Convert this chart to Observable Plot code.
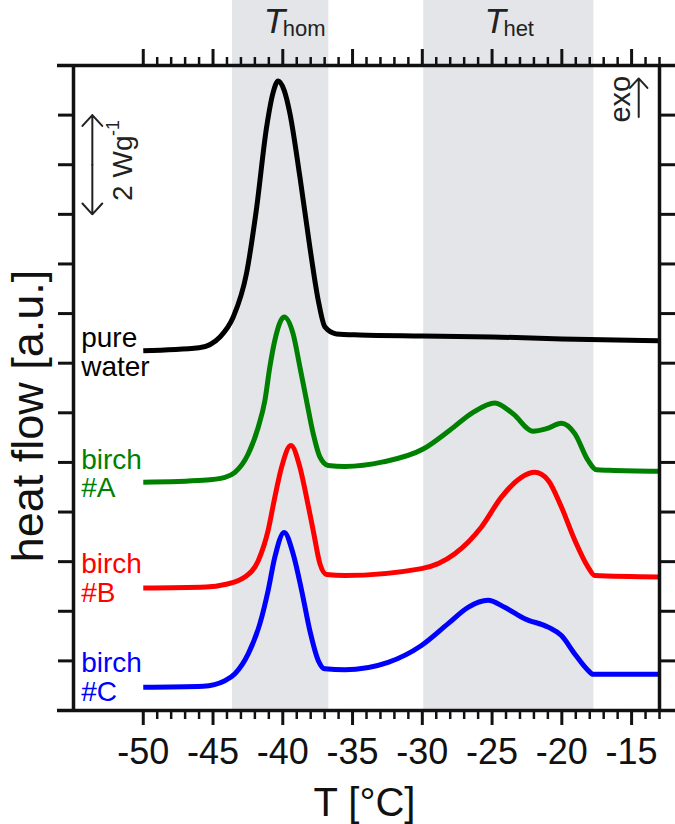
<!DOCTYPE html>
<html><head><meta charset="utf-8">
<script src="https://cdn.jsdelivr.net/npm/d3@7"></script>
<script src="https://cdn.jsdelivr.net/npm/@observablehq/plot@0.6"></script>
<style>html,body{margin:0;padding:0;background:#fff}</style>
</head><body><div id="chart"></div>
<script>
// ---- data ----
const waterT = [-50, -46, -44.5, -43.55, -42.6, -41.9, -41.16, -40.7, -40.33, -39.9, -39.5, -38.77, -38.06, -37.46, -36.98, -36.15, -34.5, -30, -25, -20, -13];
const waterV = [7.25, 7.31, 7.53, 7.93, 8.81, 10.08, 11.76, 12.45, 12.69, 12.5, 12.05, 10.75, 9.34, 8.27, 7.73, 7.59, 7.57, 7.55, 7.53, 7.49, 7.45];

const birchAT = [-50, -45.7, -44.15, -43.43, -42.48, -41.76, -41.28, -40.93, -40.57, -39.9, -39.26, -38.77, -38.3, -37.82, -37.34, -36.75, -35.55, -32.81, -29.94, -28.03, -26.36, -24.8, -23.5, -22.06, -21.1, -20.03, -19.07, -18.12, -17.52, -16.57, -13];
const birchAV = [4.60, 4.64, 4.70, 4.80, 5.17, 5.71, 6.25, 6.92, 7.46, 7.93, 7.59, 6.92, 6.25, 5.58, 5.11, 4.94, 4.92, 5.01, 5.27, 5.65, 6.01, 6.2, 5.98, 5.63, 5.68, 5.79, 5.58, 5.04, 4.85, 4.84, 4.82];

const birchBT = [-50, -45.5, -44.15, -42.72, -41.76, -41.05, -40.57, -40.09, -39.42, -38.77, -38.3, -37.82, -37.34, -36.86, -35.55, -30.06, -27.67, -25.76, -24.33, -22.9, -21.94, -20.98, -20.03, -19.07, -18.12, -17.64, -13];
const birchBV = [2.47, 2.49, 2.54, 2.69, 3.02, 3.63, 4.30, 4.9, 5.34, 4.9, 4.30, 3.63, 2.96, 2.74, 2.72, 2.86, 3.16, 3.70, 4.30, 4.70, 4.80, 4.64, 4.10, 3.43, 2.89, 2.72, 2.69];

const birchCT = [-50, -45.7, -44.15, -43.43, -42.48, -41.64, -41.05, -40.57, -39.9, -39.26, -38.65, -38.06, -37.46, -36.98, -35.55, -32.45, -30.06, -28.15, -26.72, -25.29, -24.1, -22.66, -20.98, -20.03, -19.07, -18.12, -17.76, -13];
const birchCV = [0.47, 0.49, 0.60, 0.74, 1.14, 1.75, 2.42, 3.09, 3.59, 3.16, 2.42, 1.61, 1.01, 0.84, 0.82, 0.97, 1.31, 1.75, 2.08, 2.22, 2.08, 1.85, 1.68, 1.51, 1.14, 0.81, 0.73, 0.73];

const seriesNames = ["pure\nwater", "birch\n#A", "birch\n#B", "birch\n#C"];
const seriesColors = ["#000000", "#008000", "#ff0000", "#0000ff"];
const bandNames = ["T", "T"];
const bandSubs = ["hom", "het"];
const bandFrom = [-43.6, -29.9];
const bandTo = [-36.7, -17.7];
const xMajorTicks = [-50, -45, -40, -35, -30, -25, -20, -15];
const xTickLabels = ["-50", "-45", "-40", "-35", "-30", "-25", "-20", "-15"];
const xMinorTicks = d3.range(-50, -12).filter(t => !xMajorTicks.includes(t));
const yTicks = d3.range(1, 13);
const xLabel = "T [°C]";
const yLabel = "heat flow [a.u.]";

// ---- layout ----
const W = 675, H = 824;
const mL = 73, mR = 16, mT = 65, mB = 114;
const xDom = [-55, -13], yDom = [0, 13];
const kx = (W - mL - mR) / (xDom[1] - xDom[0]);   // px per °C
const ky = (H - mT - mB) / (yDom[1] - yDom[0]);   // px per unit

const curves = [
  {T: waterT, V: waterV},
  {T: birchAT, V: birchAV},
  {T: birchBT, V: birchBV},
  {T: birchCT, V: birchCV}
].flatMap((c, i) => c.T.map((t, j) => ({t, v: c.V[j], s: i})));

const bands = bandFrom.map((a, i) => ({a, b: bandTo[i], name: bandNames[i], sub: bandSubs[i]}));
const titleT = [-41.36, -25.55];   // where each band title starts
const labels = seriesNames.map((n, i) => ({n, i}));
const labelY = [6.75, 4.30, 2.19, 0.20];

const font = "'Liberation Sans', Arial, Helvetica, sans-serif";

const chart = Plot.plot({
  width: W, height: H,
  marginLeft: mL, marginRight: mR, marginTop: mT, marginBottom: mB,
  x: {domain: xDom, axis: null},
  y: {domain: yDom, axis: null},
  style: {fontFamily: font, background: "#fff", overflow: "visible"},
  marks: [
    // shaded nucleation ranges
    Plot.rect(bands, {x1: "a", x2: "b", y1: () => 0, y2: () => yDom[1] + mT / ky, fill: "#e4e5e8"}),
    // band titles
    Plot.text(bands, {x: (d, i) => titleT[i], frameAnchor: "top", dy: -33, text: "name",
      textAnchor: "start", lineAnchor: "bottom", fontSize: 35, fontStyle: "italic", fill: "#222"}),
    Plot.text(bands, {x: (d, i) => titleT[i], dx: 19, frameAnchor: "top", dy: -30, text: "sub",
      textAnchor: "start", lineAnchor: "bottom", fontSize: 22, fill: "#222"}),
    // curves
    Plot.line(curves, {x: "t", y: "v", z: "s", stroke: d => seriesColors[d.s], strokeWidth: 5,
      curve: "monotone-x", strokeLinejoin: "round", strokeLinecap: "butt"}),
    // series labels
    Plot.text(labels, {x: () => -54.45, y: d => labelY[d.i], text: "n", fill: d => seriesColors[d.i],
      textAnchor: "start", lineAnchor: "bottom", lineHeight: 1.02, fontSize: 28}),
    // frame
    Plot.ruleY([yDom[0], yDom[1]], {y: d => d, x1: () => xDom[0] - 16 / kx, x2: () => xDom[1] + 17 / kx, strokeWidth: 3.5, stroke: "#111"}),
    Plot.ruleX([xDom[0], xDom[1]], {x: d => d, y1: () => yDom[0], y2: () => yDom[1], strokeWidth: 3.5, stroke: "#111"}),
    // y ticks (left and right, outward)
    Plot.ruleY(yTicks, {y: d => d, x1: () => xDom[0] - 15 / kx, x2: () => xDom[0], strokeWidth: 3, stroke: "#111"}),
    Plot.ruleY(yTicks, {y: d => d, x1: () => xDom[1], x2: () => xDom[1] + 17 / kx, strokeWidth: 3, stroke: "#111"}),
    // bottom ticks
    Plot.ruleX(xMajorTicks, {x: d => d, y1: () => 0, y2: () => -15 / ky, strokeWidth: 3, stroke: "#111"}),
    Plot.ruleX(xMinorTicks, {x: d => d, y1: () => 0, y2: () => -9 / ky, strokeWidth: 2.5, stroke: "#111"}),
    // top ticks
    Plot.ruleX(xMajorTicks, {x: d => d, y1: () => 13, y2: () => 13 + 16 / ky, strokeWidth: 3, stroke: "#111"}),
    Plot.ruleX(xMinorTicks, {x: d => d, y1: () => 13, y2: () => 13 + 8 / ky, strokeWidth: 2.5, stroke: "#111"}),
    // tick labels
    Plot.text(xMajorTicks, {x: d => d, text: (d, i) => xTickLabels[i], frameAnchor: "bottom", dy: 53,
      lineAnchor: "bottom", fontSize: 36, fill: "#111"}),
    // axis titles
    Plot.text([xLabel], {text: d => d, frameAnchor: "bottom", dy: 105, dx: -2, lineAnchor: "bottom", fontSize: 40, fill: "#111"}),
    Plot.text([yLabel], {text: d => d, frameAnchor: "left", textAnchor: "middle", dx: -31, dy: 28, rotate: -90,
      lineAnchor: "bottom", fontSize: 45, fill: "#111"}),
    // scale bar 2 W g^-1
    Plot.arrow([0, 1], {x1: () => -53.65, y1: () => 11, x2: () => -53.65, y2: d => d === 0 ? 12 : 10,
      stroke: "#222", strokeWidth: 2, headLength: 11, headAngle: 85}),
    Plot.text(["2 Wg"], {text: d => d, x: () => -50.83, y: () => 10.93, rotate: -90, textAnchor: "middle", lineAnchor: "bottom", fontSize: 28, fill: "#222"}),
    Plot.text(["-1"], {text: d => d, x: () => -51.75, y: () => 11.74, rotate: -90, textAnchor: "middle", lineAnchor: "bottom", fontSize: 18, fill: "#222"}),
    // exo arrow
    Plot.arrow([0], {x1: () => -14.49, y1: () => 11.96, x2: () => -14.49, y2: () => 12.74,
      stroke: "#222", strokeWidth: 2, headLength: 10, headAngle: 85}),
    Plot.text(["exo"], {text: d => d, x: () => -15.13, y: () => 12.32, rotate: -90, textAnchor: "middle", lineAnchor: "bottom", fontSize: 29, fill: "#222"})
  ]
});
document.getElementById("chart").appendChild(chart);
</script></body></html>
